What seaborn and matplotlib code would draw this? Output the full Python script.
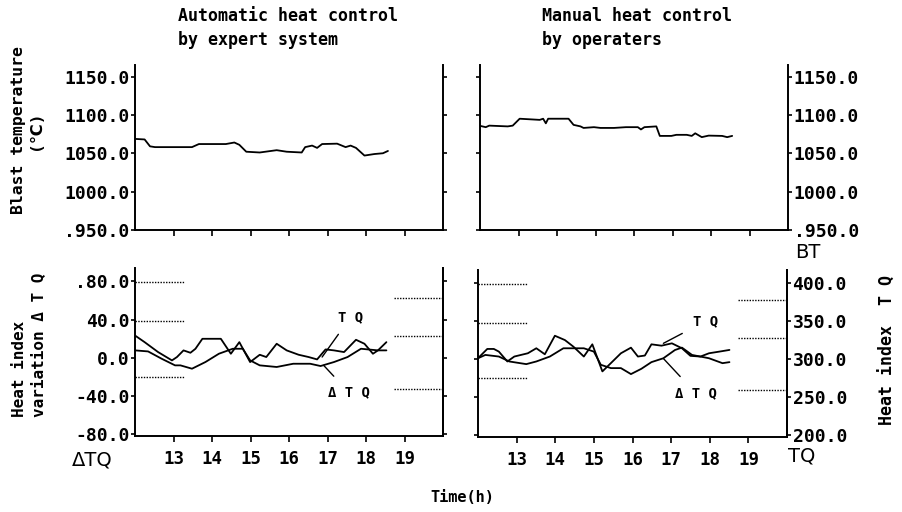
import matplotlib
matplotlib.use("Agg")
import pandas as pd
import matplotlib.pyplot as plt
import seaborn as sns

sns.set_theme(style="ticks")
plt.rcParams['font.family'] = ['DejaVu Sans Mono', 'DejaVu Sans']
plt.rcParams['font.weight'] = 'bold'
plt.rcParams['text.color'] = 'black'
plt.rcParams['axes.labelcolor'] = 'black'
plt.rcParams['xtick.color'] = 'black'
plt.rcParams['ytick.color'] = 'black'

# Blast temperature, automatic heat control (expert system)
bt_auto_time = [12.0, 12.25, 12.39, 12.52, 13.48, 13.66, 14.36, 14.58, 14.71, 14.89,
                15.24, 15.68, 15.94, 16.33, 16.42, 16.6, 16.73, 16.86, 17.25, 17.47,
                17.6, 17.74, 17.96, 18.22, 18.44, 18.57]
bt_auto = [1068.7, 1068, 1059, 1058, 1058, 1062, 1062, 1064, 1061, 1052,
           1051, 1054, 1052, 1051, 1058, 1060, 1057, 1062, 1062.5, 1058,
           1060, 1057, 1047, 1049, 1050, 1053]

# Blast temperature, manual heat control (operators)
bt_man_time = [12.0, 12.15, 12.24, 12.72, 12.85, 13.03, 13.38, 13.55, 13.64, 13.71,
               13.77, 14.3, 14.43, 14.61, 14.69, 14.96, 15.13, 15.48, 15.79, 16.1,
               16.18, 16.27, 16.58, 16.67, 16.97, 17.1, 17.37, 17.5, 17.59, 17.76,
               17.94, 18.29, 18.42, 18.55]
bt_man = [1085.7, 1084, 1086, 1085, 1086, 1095, 1094, 1093.5, 1095, 1089,
          1095, 1095, 1087, 1085, 1083, 1084, 1083, 1083, 1084, 1084,
          1081, 1084, 1085, 1072.6, 1072.6, 1074, 1074, 1072.6, 1076, 1071,
          1073, 1072.6, 1071, 1072.6]

# Heat index TQ, automatic
tq_auto_time = [12.0, 12.25, 12.6, 12.96, 13.09, 13.26, 13.44, 13.57, 13.75, 14.23,
                14.49, 14.71, 14.99, 15.24, 15.41, 15.68, 15.94, 16.25, 16.51, 16.73,
                16.95, 17.17, 17.43, 17.74, 17.96, 18.18, 18.31, 18.53]
tq_auto = [329.1, 320.4, 307.4, 296.5, 300.9, 309.6, 306.5, 311.7, 324.8, 324.8,
           305.2, 320.4, 294.3, 303.9, 300.9, 318.3, 309.6, 303.9, 300.9, 297.8,
           310.9, 309.6, 307.4, 323.5, 318.3, 305.2, 309.6, 320.4]

# Heat index variation dTQ, automatic
dtq_auto_time = [12.0, 12.34, 12.69, 13.04, 13.18, 13.48, 13.83, 14.18, 14.54, 14.8,
                 14.99, 15.24, 15.68, 16.11, 16.55, 16.82, 17.17, 17.52, 17.87, 18.31,
                 18.53]
dtq_auto = [7.7, 6.6, -1.0, -8.0, -8.0, -11.5, -4.5, 4.2, 9.4, 9.4,
            -2.8, -8.0, -9.7, -6.3, -6.3, -8.7, -4.5, 0.7, 9.4, 7.7,
            7.7]

# Heat index TQ, manual
tq_man_time = [12.0, 12.24, 12.41, 12.54, 12.76, 12.94, 13.29, 13.51, 13.73, 13.99,
               14.25, 14.47, 14.74, 14.96, 15.22, 15.44, 15.7, 15.96, 16.14, 16.32,
               16.49, 16.75, 17.02, 17.28, 17.5, 17.76, 17.98, 18.25, 18.51]
tq_man = [301.3, 313.5, 313.5, 310.0, 297.0, 303.5, 307.8, 314.4, 306.5, 330.9,
          325.2, 316.5, 303.5, 319.6, 283.9, 294.8, 307.8, 315.2, 303.5, 304.8,
          319.6, 317.8, 320.9, 314.4, 304.4, 303.5, 307.8, 310.0, 312.2]

# Heat index variation dTQ, manual
dtq_man_time = [12.0, 12.19, 12.54, 12.81, 13.25, 13.51, 13.86, 14.21, 14.74, 15.0,
                15.18, 15.44, 15.7, 15.96, 16.23, 16.49, 16.8, 17.1, 17.28, 17.54,
                17.98, 18.33, 18.51]
dtq_man = [1.0, 4.5, 2.8, -2.4, -5.2, -2.4, 2.8, 11.5, 11.5, 8.0,
           -5.9, -9.4, -9.4, -15.7, -10.1, -3.1, 1.0, 9.7, 12.2, 4.5,
           1.0, -4.2, -3.1]

# dotted guide levels printed on the chart
guide_dtq = [79, 38, -20]
guide_tq = [378, 328, 259]

hours = [13, 14, 15, 16, 17, 18, 19]
hour_labels = ["13", "14", "15", "16", "17", "18", "19"]
bt_ticks = [950, 1000, 1050, 1100, 1150]
bt_labels = [".950.0", "1000.0", "1050.0", "1100.0", "1150.0"]
dtq_ticks = [-80, -40, 0, 40, 80]
dtq_labels = ["-80.0", "-40.0", "0.0", "40.0", ".80.0"]
tq_ticks = [200, 250, 300, 350, 400]
tq_labels = ["200.0", "250.0", "300.0", "350.0", "400.0"]

fig = plt.figure(figsize=(9.03, 5.12), dpi=100)
W, H = 903, 512


def box(l, t, r, b):
    return [l / W, 1 - b / H, (r - l) / W, (b - t) / H]


ax_bt_a = fig.add_axes(box(135, 65, 443, 230))
ax_bt_m = fig.add_axes(box(480, 65, 788, 230))
ax_q_a = fig.add_axes(box(135, 268, 443, 436))
ax_q_m = fig.add_axes(box(478, 270, 787, 437))
tw_a = ax_q_a.twinx()
tw_m = ax_q_m.twinx()

tick_kw = dict(direction='out', length=3, width=1.2, colors='black', pad=1, labelsize=13)

for ax in [ax_bt_a, ax_bt_m, ax_q_a, ax_q_m, tw_a, tw_m]:
    ax.set_facecolor('none')
    ax.spines['top'].set_visible(False)
    for s in ['left', 'right', 'bottom']:
        ax.spines[s].set_color('black')
        ax.spines[s].set_linewidth(1.4)
    ax.set_xlim(12, 20)
    ax.set_xticks(hours)
    ax.tick_params(axis='both', **tick_kw)
    ax.tick_params(axis='x', length=4, pad=6, labelsize=12.5)

# Blast temperature panels
bt_a_df = pd.DataFrame({'time': bt_auto_time, 'bt': bt_auto})
bt_m_df = pd.DataFrame({'time': bt_man_time, 'bt': bt_man})
sns.lineplot(data=bt_a_df, x='time', y='bt', ax=ax_bt_a, color='black', lw=1.3)
sns.lineplot(data=bt_m_df, x='time', y='bt', ax=ax_bt_m, color='black', lw=1.3)
for ax in [ax_bt_a, ax_bt_m]:
    ax.set_ylim(950, 1165)
    ax.set_yticks(bt_ticks)
    ax.set_yticklabels(bt_labels)
    ax.set_xticklabels([])
    ax.set_xlabel("")
    ax.set_ylabel("")
ax_bt_a.tick_params(axis='y', left=True, right=True, labelleft=True, labelright=False)
ax_bt_m.tick_params(axis='y', left=True, right=True, labelleft=False, labelright=True)

# Heat index panels
for ax, tw, dt, dv, tt, tv in [(ax_q_a, tw_a, dtq_auto_time, dtq_auto, tq_auto_time, tq_auto),
                               (ax_q_m, tw_m, dtq_man_time, dtq_man, tq_man_time, tq_man)]:
    d_df = pd.DataFrame({'time': dt, 'dtq': dv})
    t_df = pd.DataFrame({'time': tt, 'tq': tv})
    sns.lineplot(data=d_df, x='time', y='dtq', ax=ax, color='black', lw=1.3)
    sns.lineplot(data=t_df, x='time', y='tq', ax=tw, color='black', lw=1.3)
    ax.set_ylim(-82, 94)
    tw.set_ylim(300 + 1.25 * -82, 300 + 1.25 * 94)
    ax.set_yticks(dtq_ticks)
    ax.set_yticklabels(dtq_labels)
    tw.set_yticks(tq_ticks)
    tw.set_yticklabels(tq_labels)
    ax.set_xticklabels(hour_labels)
    tw.spines['left'].set_visible(False)
    tw.spines['bottom'].set_visible(False)
    ax.hlines(guide_dtq, 12, 13.28, colors='black', linestyles=(0, (1, 1)), lw=1)
    tw.hlines(guide_tq, 18.72, 20, colors='black', linestyles=(0, (1, 1)), lw=1)
    for a in (ax, tw):
        a.set_xlabel("")
        a.set_ylabel("")
        a.set_xlim(12, 20)

ax_q_a.tick_params(axis='y', labelleft=True)
tw_a.tick_params(axis='y', labelright=False)
ax_q_m.tick_params(axis='y', labelleft=False)
tw_m.tick_params(axis='y', labelright=True)

# line annotations
ann_kw = dict(fontsize=10, fontweight='bold', ha='center', va='center',
              arrowprops=dict(arrowstyle='-', color='black', lw=1, shrinkA=6, shrinkB=0))
tw_a.annotate("T Q", xy=(16.86, 300.9), xytext=(17.6, 353), **ann_kw)
ax_q_a.annotate("Δ T Q", xy=(16.9, -8.0), xytext=(17.56, -36.5), **ann_kw)
tw_m.annotate("T Q", xy=(16.8, 320.9), xytext=(17.89, 350), **ann_kw)
tw_m.annotate("Δ T Q", xy=(16.8, 300.9), xytext=(17.63, 255.6), **ann_kw)

# titles
fig.text(178 / W, 1 - 28 / H, "Automatic heat control\nby expert system",
         fontsize=12, fontweight='bold', ha='left', va='center', linespacing=1.45)
fig.text(542 / W, 1 - 28 / H, "Manual heat control\nby operaters",
         fontsize=12, fontweight='bold', ha='left', va='center', linespacing=1.45)

# axis labels
fig.text(27 / W, 1 - 130 / H, "Blast temperature\n(℃)", rotation=90, fontsize=11.8,
         fontweight='bold', ha='center', va='center', multialignment='center', linespacing=1.1)
fig.text(29 / W, 1 - 417 / H, "Heat index\nvariation Δ T Q", rotation=90, fontsize=11.5,
         fontweight='bold', ha='center', va='bottom', multialignment='left', linespacing=1.3)
fig.text(888 / W, 1 - 350 / H, "Heat index  T Q", rotation=90, fontsize=12,
         fontweight='bold', ha='center', va='center')
fig.text(462 / W, 1 - 497 / H, "Time(h)", fontsize=11, fontweight='bold', ha='center', va='center')

fig.text(92 / W, 1 - 460 / H, "ΔTQ", fontsize=14, fontweight='normal', family='DejaVu Sans',
         ha='center', va='center')
fig.text(802 / W, 1 - 456 / H, "TQ", fontsize=14, fontweight='normal', family='DejaVu Sans',
         ha='center', va='center')
fig.text(808 / W, 1 - 253 / H, "BT", fontsize=14, fontweight='normal', family='DejaVu Sans',
         ha='center', va='center')

fig.savefig("out.png", dpi=100, facecolor='white')
